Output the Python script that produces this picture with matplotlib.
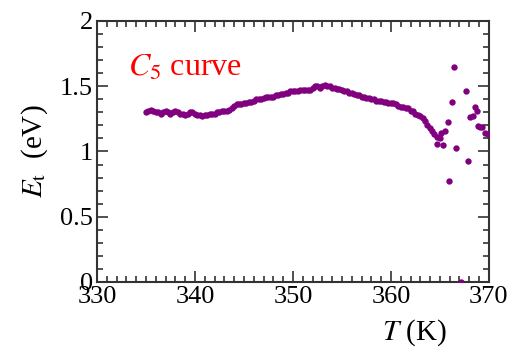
import matplotlib.pyplot as plt
from matplotlib.ticker import MultipleLocator

# Dense part of the C5 curve (T in K, Et in eV)
temps = [
    335.0, 335.25, 335.5, 335.75, 336.0, 336.25, 336.5, 336.75, 337.0, 337.25,
    337.5, 337.75, 338.0, 338.25, 338.5, 338.75, 339.0, 339.25, 339.5, 339.75,
    340.0, 340.25, 340.5, 340.75, 341.0, 341.25, 341.5, 341.75, 342.0, 342.25,
    342.5, 342.75, 343.0, 343.25, 343.5, 343.75, 344.0, 344.25, 344.5, 344.75,
    345.0, 345.25, 345.5, 345.75, 346.0, 346.25, 346.5, 346.75, 347.0, 347.25,
    347.5, 347.75, 348.0, 348.25, 348.5, 348.75, 349.0, 349.25, 349.5, 349.75,
    350.0, 350.25, 350.5, 350.75, 351.0, 351.25, 351.5, 351.75, 352.0, 352.25,
    352.5, 352.75, 353.0, 353.25, 353.5, 353.75, 354.0, 354.25, 354.5, 354.75,
    355.0, 355.25, 355.5, 355.75, 356.0, 356.25, 356.5, 356.75, 357.0, 357.25,
    357.5, 357.75, 358.0, 358.25, 358.5, 358.75, 359.0, 359.25, 359.5, 359.75,
    360.0, 360.25, 360.5, 360.75, 361.0, 361.25, 361.5, 361.75, 362.0, 362.25,
    362.5, 362.75, 363.0,
]
energies = [
    1.30, 1.31, 1.32, 1.31, 1.30, 1.30, 1.29, 1.30, 1.31, 1.30,
    1.29, 1.30, 1.31, 1.30, 1.29, 1.29, 1.28, 1.29, 1.30, 1.30,
    1.29, 1.28, 1.28, 1.27, 1.28, 1.28, 1.29, 1.29, 1.29, 1.30,
    1.30, 1.31, 1.31, 1.31, 1.32, 1.33, 1.35, 1.36, 1.36, 1.36,
    1.37, 1.37, 1.38, 1.38, 1.39, 1.40, 1.40, 1.40, 1.41, 1.42,
    1.42, 1.42, 1.42, 1.43, 1.43, 1.44, 1.44, 1.45, 1.45, 1.46,
    1.46, 1.46, 1.46, 1.47, 1.47, 1.47, 1.47, 1.47, 1.49, 1.50,
    1.50, 1.49, 1.50, 1.51, 1.50, 1.50, 1.49, 1.49, 1.48, 1.48,
    1.47, 1.46, 1.46, 1.45, 1.45, 1.44, 1.43, 1.43, 1.42, 1.42,
    1.41, 1.41, 1.40, 1.40, 1.39, 1.39, 1.39, 1.38, 1.38, 1.37,
    1.37, 1.37, 1.36, 1.35, 1.34, 1.34, 1.33, 1.33, 1.31, 1.31,
    1.29, 1.28, 1.27,
]

# Scattered points near the end of the curve
tail_temps = [
    363.25, 363.5, 363.7, 364.0, 364.2, 364.4, 364.7, 364.7, 365.0, 365.1,
    365.3, 365.5, 365.8, 365.9, 366.2, 366.4, 366.6, 367.2, 367.7, 367.9,
    368.1, 368.4, 368.6, 368.8, 368.9, 369.1, 369.3, 369.6, 369.9,
]
tail_energies = [
    1.26, 1.23, 1.20, 1.18, 1.16, 1.13, 1.11, 1.055, 1.10, 1.14,
    1.047, 1.157, 1.228, 0.77, 1.377, 1.65, 1.03, 0.0, 1.466, 0.927,
    1.267, 1.274, 1.344, 1.313, 1.195, 1.19, 1.185, 1.144, 1.132,
]

plt.rcParams['font.family'] = 'Liberation Serif'
plt.rcParams['mathtext.fontset'] = 'stix'

fig = plt.figure(figsize=(5.13, 3.49), dpi=100)
ax = fig.add_axes([0.189, 0.192, 0.764, 0.748])

purple = '#800080'
ax.scatter(temps, energies, s=21, color=purple, linewidths=0, zorder=3)
ax.scatter(tail_temps, tail_energies, s=21, color=purple, linewidths=0, zorder=3)

ax.set_xlim(330, 370)
ax.set_ylim(0, 2)
ax.xaxis.set_major_locator(MultipleLocator(10))
ax.xaxis.set_minor_locator(MultipleLocator(1))
ax.yaxis.set_major_locator(MultipleLocator(0.5))
ax.yaxis.set_minor_locator(MultipleLocator(0.1))
ax.set_yticks([0, 0.5, 1, 1.5, 2], ['0', '0.5', '1', '1.5', '2'])

ax.tick_params(which='both', direction='in', top=True, right=True,
               labelsize=19, color='#333333', width=1.2)
ax.tick_params(which='major', length=8, pad=3)
ax.tick_params(which='minor', length=4)
for sp in ax.spines.values():
    sp.set_linewidth(1.5)
    sp.set_color('#333333')

ax.text(0.08, 0.79, r'$C_5$ curve', transform=ax.transAxes,
        color='red', fontsize=23)

ax.set_ylabel(r'$E_{\rm t}$  (eV)', fontsize=21)
ax.set_xlabel(r'$T$ (K)', fontsize=21)
ax.xaxis.set_label_coords(0.81, -0.135)
ax.yaxis.set_label_coords(-0.12, 0.5)

fig.savefig('out.png', dpi=100)
